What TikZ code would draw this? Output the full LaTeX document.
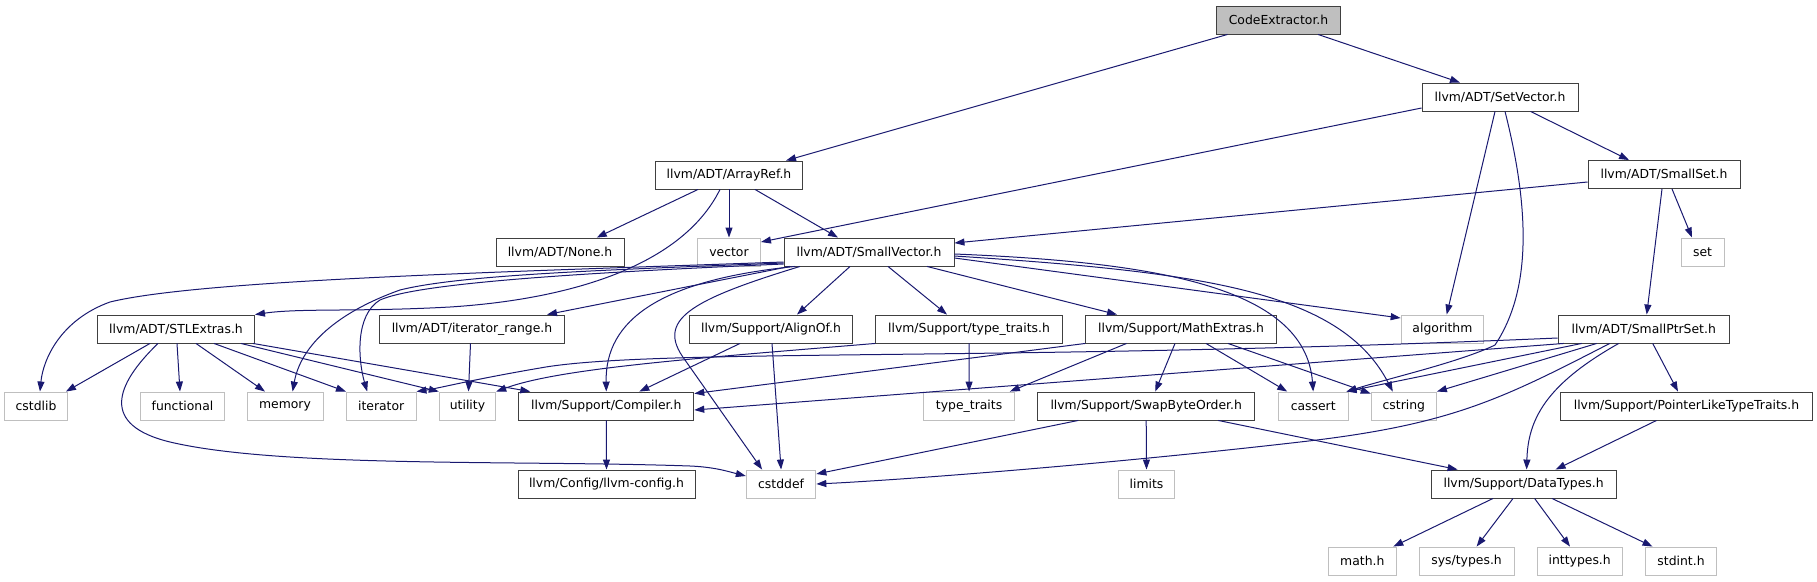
\documentclass[tikz,border=0pt]{standalone}
\usepackage{fontspec}
\newfontfamily\dvfont{DejaVu Sans}
\usetikzlibrary{arrows.meta}
\definecolor{edgeblue}{RGB}{25,25,112}
\definecolor{sysgray}{RGB}{191,191,191}
\definecolor{boxline}{RGB}{64,64,64}
\begin{document}
\begin{tikzpicture}[x=1pt,y=-1pt,
  box/.style={draw=boxline, line width=0.9pt, fill=white, minimum height=28pt, inner sep=0pt, font={\dvfont\fontsize{12.4}{14}\selectfont}},
  sys/.style={box, draw=sysgray},
  root/.style={box, fill=sysgray},
  edge/.style={draw=edgeblue, line width=1pt, -{Triangle[length=10pt,width=7pt]}, fill=none}]
\useasboundingbox (0,0) rectangle (1817,581);
% nodes
\node[root, minimum width=124pt] (ce) at (1278.5,20) {CodeExtractor.h};
\node[box, minimum width=156pt] (setvec) at (1500,97) {llvm/ADT/SetVector.h};
\node[box, minimum width=152pt] (smallset) at (1664,174.5) {llvm/ADT/SmallSet.h};
\node[sys, minimum width=43pt] (set) at (1702.5,252) {set};
\node[box, minimum width=147pt] (arrayref) at (729,175) {llvm/ADT/ArrayRef.h};
\node[box, minimum width=128pt] (none) at (560,252) {llvm/ADT/None.h};
\node[sys, minimum width=63pt] (vector) at (729,252) {vector};
\node[box, minimum width=170pt] (smallvec) at (869,252) {llvm/ADT/SmallVector.h};
\node[box, minimum width=157pt] (stlextras) at (176,329) {llvm/ADT/STLExtras.h};
\node[box, minimum width=185pt] (itrange) at (472,329) {llvm/ADT/iterator\_range.h};
\node[box, minimum width=162.5pt] (alignof) at (771,329) {llvm/Support/AlignOf.h};
\node[box, minimum width=186.6pt] (tth) at (969,329) {llvm/Support/type\_traits.h};
\node[box, minimum width=190.7pt] (mathext) at (1181,329) {llvm/Support/MathExtras.h};
\node[sys, minimum width=82.6pt] (algorithm) at (1442.4,329) {algorithm};
\node[box, minimum width=171.2pt] (smallptr) at (1643.7,329) {llvm/ADT/SmallPtrSet.h};
\node[sys, minimum width=63pt] (cstdlib) at (36,406) {cstdlib};
\node[sys, minimum width=84pt] (functional) at (182.5,406) {functional};
\node[sys, minimum width=76pt] (memory) at (285,406) {memory};
\node[sys, minimum width=69.6pt] (iterator) at (381.2,406) {iterator};
\node[sys, minimum width=56.5pt] (utility) at (467.5,406) {utility};
\node[box, minimum width=175pt] (compiler) at (606.3,406) {llvm/Support/Compiler.h};
\node[sys, minimum width=90.6pt] (typetraits) at (969.1,406) {type\_traits};
\node[box, minimum width=217pt] (swap) at (1146.2,406) {llvm/Support/SwapByteOrder.h};
\node[sys, minimum width=69.7pt] (cassert) at (1313.2,406) {cassert};
\node[sys, minimum width=65.3pt] (cstring) at (1403.8,406) {cstring};
\node[box, minimum width=251.5pt] (pointerlike) at (1686.5,406) {llvm/Support/PointerLikeTypeTraits.h};
\node[box, minimum width=177pt] (llvmconfig) at (606.5,484) {llvm/Config/llvm-config.h};
\node[sys, minimum width=69.6pt] (cstddef) at (781.1,484) {cstddef};
\node[sys, minimum width=56pt] (limits) at (1146.5,484) {limits};
\node[box, minimum width=185.3pt] (datatypes) at (1523.6,484) {llvm/Support/DataTypes.h};
\node[sys, minimum width=68pt] (math) at (1362.3,561) {math.h};
\node[sys, minimum width=94.8pt] (systypes) at (1466.6,561) {sys/types.h};
\node[sys, minimum width=85pt] (inttypes) at (1579.7,561) {inttypes.h};
\node[sys, minimum width=70.5pt] (stdint) at (1681,561) {stdint.h};
% edges
\path[edge] ([xshift=-51pt]ce.south) -- ([xshift=57pt]arrayref.north);
\path[edge] ([xshift=39.5pt]ce.south) -- ([xshift=-40pt]setvec.north);
\path[edge] ([yshift=-11pt]setvec.west) -- ([yshift=10pt]vector.east);
\path[edge] ([xshift=-5pt]setvec.south) -- ([xshift=4.3pt]algorithm.north);
\path[edge] ([xshift=5pt]setvec.south) .. controls (1535,230) and (1525,300) .. (1495,345) .. controls (1460,362) and (1390,378) .. ([xshift=-2pt]cassert.north east);
\path[edge] ([xshift=30.5pt]setvec.south) -- ([xshift=-35pt]smallset.north);
\path[edge] ([yshift=-7.5pt]smallset.west) -- ([yshift=9pt]smallvec.east);
\path[edge] ([xshift=8pt]smallset.south) -- ([xshift=-10.5pt]set.north);
\path[edge] ([xshift=-2pt]smallset.south) -- ([xshift=3pt]smallptr.north);
\path[edge] ([xshift=-31pt]arrayref.south) -- ([xshift=36.7pt]none.north);
\path[edge] (arrayref.south) -- (vector.north);
\path[edge] ([xshift=26pt]arrayref.south) -- ([xshift=-31pt]smallvec.north);
\path[edge] ([xshift=-9pt]arrayref.south) .. controls (680,270) and (560,300) .. (450,307) .. controls (360,312) and (300,308) .. (stlextras.north east);
% SmallVector
\path[edge] ([yshift=-10pt]smallvec.west) .. controls (500,272) and (200,280) .. (110,302) .. controls (60,320) and (43,360) .. ([xshift=4pt]cstdlib.north);
\path[edge] ([yshift=-11pt]smallvec.west) .. controls (600,270) and (460,275) .. (400,290) .. controls (330,315) and (300,350) .. ([xshift=7.6pt]memory.north);
\path[edge] ([yshift=-12pt]smallvec.west) .. controls (600,272) and (420,282) .. (380,300) .. controls (355,315) and (358,360) .. ([xshift=-14pt]iterator.north);
\path[edge] ([xshift=-79pt]smallvec.south) -- ([xshift=75pt]itrange.north);
\path[edge] ([xshift=-74pt]smallvec.south) .. controls (660,280) and (605,320) .. (compiler.north);
\path[edge] ([xshift=-69pt]smallvec.south) .. controls (690,300) and (655,320) .. (685,360) -- ([xshift=-19pt]cstddef.north);
\path[edge] ([xshift=-19pt]smallvec.south) -- ([xshift=26pt]alignof.north);
\path[edge] ([xshift=19pt]smallvec.south) -- ([xshift=-22pt]tth.north);
\path[edge] ([xshift=58pt]smallvec.south) -- ([xshift=-64pt]mathext.north);
\path[edge] ([yshift=-6pt]smallvec.east) -- ([yshift=11pt]algorithm.west);
\path[edge] ([yshift=-2pt]smallvec.east) .. controls (1150,262) and (1305,285) .. (cassert.north);
\path[edge] ([yshift=-4pt]smallvec.east) .. controls (1200,272) and (1340,290) .. ([xshift=-11pt]cstring.north);
% STLExtras
\path[edge] ([xshift=-26pt]stlextras.south) -- ([xshift=-2pt]cstdlib.north east);
\path[edge] ([xshift=1pt]stlextras.south) -- ([xshift=-2.5pt]functional.north);
\path[edge] ([xshift=20pt]stlextras.south) -- ([xshift=-20pt]memory.north);
\path[edge] ([xshift=38pt]stlextras.south) -- (iterator.north west);
\path[edge] ([xshift=65pt]stlextras.south) -- (utility.north west);
\path[edge] ([xshift=77pt]stlextras.south) -- ([xshift=-76pt]compiler.north);
\path[edge] ([xshift=-18pt]stlextras.south) .. controls (115,385) and (100,425) .. (170,442) .. controls (280,468) and (520,460) .. (690,466) .. controls (715,467) and (730,472) .. ([yshift=8pt]cstddef.west);
\path[edge] ([xshift=-1.5pt]itrange.south) -- ([xshift=1pt]utility.north);
% AlignOf, type_traits.h
\path[edge] ([xshift=-31pt]alignof.south) -- ([xshift=33pt]compiler.north);
\path[edge] ([xshift=1pt]alignof.south) -- (cstddef.north);
\path[edge] (tth.south west) .. controls (700,358) and (560,368) .. (utility.north east);
\path[edge] (tth.south) -- (typetraits.north);
% MathExtras
\path[edge] (mathext.south west) -- ([yshift=-2pt]compiler.north east);
\path[edge] ([xshift=-54.5pt]mathext.south) -- ([xshift=-5pt]typetraits.north east);
\path[edge] ([xshift=-6pt]mathext.south) -- ([xshift=9pt]swap.north);
\path[edge] ([xshift=25pt]mathext.south) -- ([xshift=-26pt]cassert.north);
\path[edge] ([xshift=47pt]mathext.south) -- ([yshift=-2pt]cstring.north west);
% SwapByteOrder
\path[edge] ([xshift=-68pt]swap.south) -- ([yshift=10pt]cstddef.east);
\path[edge] (swap.south) -- (limits.north);
\path[edge] ([xshift=72pt]swap.south) -- ([xshift=-66pt]datatypes.north);
% SmallPtrSet
\path[edge] ([yshift=-9pt]smallptr.west) .. controls (1000,362) and (650,348) .. (540,368) .. controls (470,380) and (440,388) .. (iterator.north east);
\path[edge] ([xshift=6pt]smallptr.south west) -- ([yshift=-4pt]compiler.east);
\path[edge] ([xshift=-62pt]smallptr.south) -- ([xshift=-2pt]cassert.north east);
\path[edge] ([xshift=-47pt]smallptr.south) -- (cstring.north east);
\path[edge] ([xshift=-34pt]smallptr.south) .. controls (1500,400) and (1450,425) .. (1300,442) .. controls (1100,465) and (900,480) .. (cstddef.east);
\path[edge] ([xshift=-25pt]smallptr.south) .. controls (1545,385) and (1528,420) .. ([xshift=3pt]datatypes.north);
\path[edge] ([xshift=9pt]smallptr.south) -- ([xshift=-8.5pt]pointerlike.north);
\path[edge] ([xshift=-30pt]pointerlike.south) -- ([xshift=32pt]datatypes.north);
\path[edge] (compiler.south) -- (llvmconfig.north);
% DataTypes
\path[edge] ([xshift=-30.6pt]datatypes.south) -- ([xshift=31pt]math.north);
\path[edge] ([xshift=-10.6pt]datatypes.south) -- ([xshift=10pt]systypes.north);
\path[edge] ([xshift=11pt]datatypes.south) -- ([xshift=-9.7pt]inttypes.north);
\path[edge] ([xshift=28.4pt]datatypes.south) -- ([xshift=-28.5pt]stdint.north);
\end{tikzpicture}
\end{document}
